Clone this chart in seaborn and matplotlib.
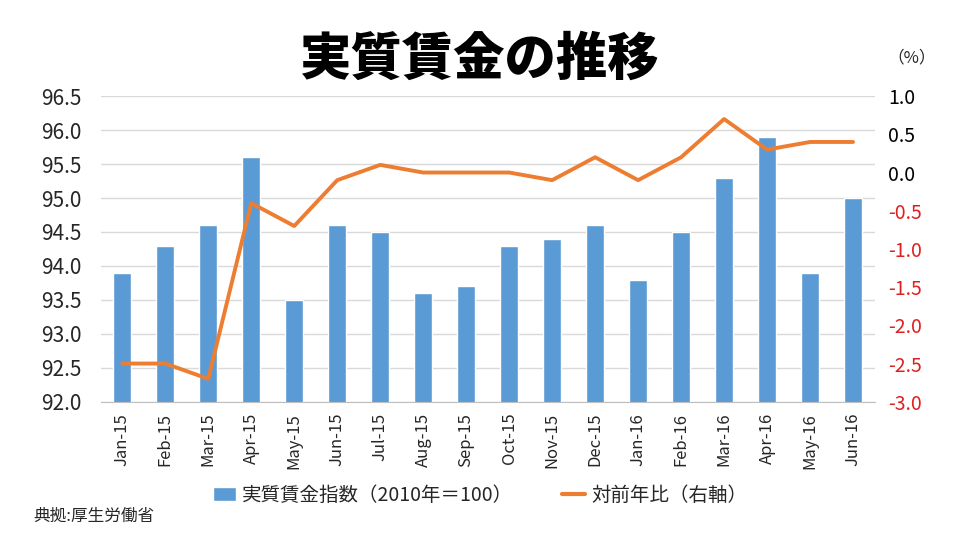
import numpy as np
import pandas as pd
import seaborn as sns
import matplotlib.pyplot as plt
from matplotlib.patches import Patch
from matplotlib.lines import Line2D

# データ
months = ["Jan-15", "Feb-15", "Mar-15", "Apr-15", "May-15", "Jun-15",
          "Jul-15", "Aug-15", "Sep-15", "Oct-15", "Nov-15", "Dec-15",
          "Jan-16", "Feb-16", "Mar-16", "Apr-16", "May-16", "Jun-16"]
wage_index = [93.9, 94.3, 94.6, 95.6, 93.5, 94.6, 94.5, 93.6, 93.7,
              94.3, 94.4, 94.6, 93.8, 94.5, 95.3, 95.9, 93.9, 95.0]
yoy_change = [-2.5, -2.5, -2.7, -0.4, -0.7, -0.1, 0.1, 0.0, 0.0,
              0.0, -0.1, 0.2, -0.1, 0.2, 0.7, 0.3, 0.4, 0.4]

left_ticks = [92.0, 92.5, 93.0, 93.5, 94.0, 94.5, 95.0, 95.5, 96.0, 96.5]
right_ticks = [-3.0, -2.5, -2.0, -1.5, -1.0, -0.5, 0.0, 0.5, 1.0]

blue = "#5B9BD5"
orange = "#ED7D31"
red = "#E02020"

df = pd.DataFrame({"month": months, "wage": wage_index, "yoy": yoy_change})
df["pos"] = np.arange(len(df))

sns.set_style("white")
plt.rcParams["font.family"] = ["Noto Sans CJK JP", "DejaVu Sans"]

fig = plt.figure(figsize=(9.6, 5.4), dpi=100)
ax = fig.add_axes([0.105, 0.256, 0.806, 0.566])

# 棒グラフ（左軸）
sns.barplot(data=df, x="month", y="wage", color=blue, width=0.42,
            saturation=1, ax=ax, zorder=2)
ax.set_ylim(92.0, 96.5)
ax.set_yticks(left_ticks)
ax.set_yticklabels([f"{v:.1f}" for v in left_ticks], fontsize=15)
ax.yaxis.grid(True, color="#D9D9D9", linewidth=1, zorder=0)
ax.set_axisbelow(True)
ax.set_xlim(-0.5, len(months) - 0.5)
ax.set_xlabel("")
ax.set_ylabel("")
ax.tick_params(axis="x", which="major", length=0, labelsize=12, rotation=90, pad=8)
ax.tick_params(axis="y", length=0, pad=14)
ax.set_xticks(np.arange(len(months) + 1) - 0.5, minor=True)
ax.tick_params(axis="x", which="minor", length=7, color="#BFBFBF", width=1)
for s in ["top", "right", "left"]:
    ax.spines[s].set_visible(False)
ax.spines["bottom"].set_color("#BFBFBF")

# 折れ線（右軸）
ax2 = ax.twinx()
sns.lineplot(data=df, x="pos", y="yoy", color=orange, linewidth=2.8, ax=ax2)
ax2.set_ylim(-3.0, 1.0)
ax2.set_yticks(right_ticks)
ax2.set_yticklabels([f"{v:.1f}" for v in right_ticks], fontsize=14)
for lbl, v in zip(ax2.get_yticklabels(), right_ticks):
    lbl.set_color(red if v < 0 else "black")
ax2.tick_params(axis="y", length=0, pad=10)
ax2.set_ylabel("")
ax2.set_xlabel("")
for s in ["top", "right", "left", "bottom"]:
    ax2.spines[s].set_visible(False)

# タイトルなど
fig.text(0.5, 0.889, "実質賃金の推移", ha="center", va="center",
         fontsize=37, fontweight="heavy", color="black")
fig.text(0.95, 0.893, "（%）", ha="center", va="center", fontsize=12)
fig.text(0.035, 0.043, "典拠:厚生労働省", ha="left", va="center", fontsize=12)

handles = [Patch(facecolor=blue, label="実質賃金指数（2010年＝100）"),
           Line2D([0], [0], color=orange, linewidth=3, label="対前年比（右軸）")]
fig.legend(handles=handles, loc="center", bbox_to_anchor=(0.5, 0.083),
           ncol=2, frameon=False, fontsize=14, handlelength=1.2,
           handletextpad=0.3, columnspacing=2.5)

fig.savefig("out.png", dpi=100)
